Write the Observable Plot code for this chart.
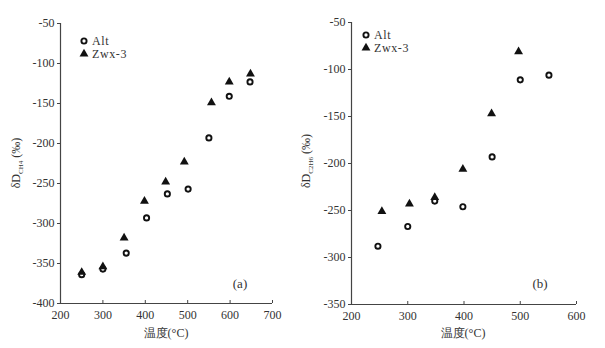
<!DOCTYPE html>
<html><head><meta charset="utf-8">
<script src="https://cdn.jsdelivr.net/npm/d3@7"></script>
<script src="https://cdn.jsdelivr.net/npm/@observablehq/plot@0.6"></script>
<style>
body{margin:0;background:#fff}
#wrap{display:flex;width:605px;height:348px}
svg{font-family:"Liberation Serif","DejaVu Serif",serif}
</style>
</head><body><div id="wrap"></div>
<script>
// Panel (a): δD CH4
const tempA_alt = [250, 300, 355, 403, 452, 501, 550, 598, 647];
const dA_alt    = [-364, -357, -337, -293, -263, -257, -193, -141, -123];
const tempA_zwx = [250, 300, 350, 398, 448, 492, 556, 598, 648];
const dA_zwx    = [-361, -354, -318, -272, -248, -223, -149, -123, -113];
const xTicksA = [200, 300, 400, 500, 600, 700];
const yTicksA = [-400, -350, -300, -250, -200, -150, -100, -50];

// Panel (b): δD C2H6
const tempB_alt = [247, 300, 348, 398, 450, 500, 551];
const dB_alt    = [-288, -267, -240, -246, -193, -111, -106];
const tempB_zwx = [254, 303, 348, 398, 449, 497];
const dB_zwx    = [-251, -243, -236, -206, -147, -81];
const xTicksB = [200, 300, 400, 500, 600];
const yTicksB = [-350, -300, -250, -200, -150, -100, -50];

const seriesNames = ["Alt", "Zwx-3"];
const xLabel = "温度(°C)";

const ink = "#333";
const triR = 3.3;

function panel(o) {
  const alt = o.tx.map((t, i) => ({t, d: o.dy[i]}));
  const zwx = o.tz.map((t, i) => ({t, d: o.dz[i]}));
  const p = Plot.plot({
    width: o.width, height: 348,
    marginLeft: o.ml, marginRight: o.mr, marginTop: o.mt, marginBottom: o.mb,
    style: {fontFamily: '"Liberation Serif", serif', fontSize: "12px", color: ink, background: "#fff"},
    x: {domain: [o.xTicks[0], o.xTicks[o.xTicks.length - 1]]},
    y: {domain: [o.yTicks[0], o.yTicks[o.yTicks.length - 1]]},
    marks: [
      Plot.axisY({ticks: o.yTicks, tickSize: 3, tickPadding: 3, tickFormat: d => String(d), label: null, stroke: "#444"}),
      Plot.axisX({ticks: o.xTicks, tickSize: 0, tickPadding: 7, tickFormat: d => String(d), label: null}),
      Plot.axisX({ticks: o.xTicks, tickSize: -3, text: null, label: null, stroke: "#444"}),
      Plot.ruleX([o.xTicks[0]], {stroke: "#444", strokeWidth: 1.2}),
      Plot.ruleY([o.yTicks[0]], {stroke: "#444", strokeWidth: 1.2}),
      Plot.dot(alt, {x: "t", y: "d", r: 2.6, stroke: "#111", strokeWidth: 1.9, fill: "white"}),
      Plot.dot(zwx, {x: "t", y: "d", symbol: "triangle", r: triR, fill: "#111", stroke: "none"})
    ]
  });
  const svg = d3.select(p);
  // y label with subscript
  const yl = svg.append("text")
    .attr("transform", `translate(${o.ylx},${o.yly}) rotate(-90)`)
    .attr("text-anchor", "middle").attr("fill", ink).attr("font-size", 12);
  yl.append("tspan").text("δD");
  yl.append("tspan").attr("font-size", 7).attr("dy", 3).text(o.sub);
  yl.append("tspan").attr("dy", -3).text(" (‰)");
  // x label
  svg.append("text").attr("x", o.xlx).attr("y", 337).attr("text-anchor", "middle")
    .attr("fill", ink).attr("font-size", 12).text(xLabel);
  // legend
  const lg = svg.append("g").attr("text-anchor", "start");
  lg.append("circle").attr("cx", o.lgx).attr("cy", o.lgy).attr("r", 2.6)
    .attr("fill", "white").attr("stroke", "#111").attr("stroke-width", 1.9);
  lg.append("path").attr("d", d3.symbol(d3.symbolTriangle, Math.PI * triR * triR)())
    .attr("transform", `translate(${o.lgx},${o.lgy + 13})`).attr("fill", "#111");
  lg.append("text").attr("x", o.lgx + 8).attr("y", o.lgy + 4).attr("text-anchor", "start").attr("fill", ink).attr("font-size", 12).attr("letter-spacing", 0.6).text(seriesNames[0]);
  lg.append("text").attr("x", o.lgx + 8).attr("y", o.lgy + 17).attr("text-anchor", "start").attr("fill", ink).attr("font-size", 12).attr("letter-spacing", 0.6).text(seriesNames[1]);
  // panel tag
  svg.append("text").attr("x", o.tagx).attr("y", 288).attr("text-anchor", "middle")
    .attr("fill", ink).attr("font-size", 13).text(o.tag);
  return p;
}

const wrap = document.getElementById("wrap");
wrap.appendChild(panel({
  tx: tempA_alt, dy: dA_alt, tz: tempA_zwx, dz: dA_zwx, xTicks: xTicksA, yTicks: yTicksA,
  width: 300, ml: 60, mr: 28, mt: 23, mb: 45,
  ylx: 20, yly: 163, sub: "CH4", xlx: 166, lgx: 84, lgy: 41, tagx: 240, tag: "(a)"
}));
wrap.appendChild(panel({
  tx: tempB_alt, dy: dB_alt, tz: tempB_zwx, dz: dB_zwx, xTicks: xTicksB, yTicks: yTicksB,
  width: 305, ml: 51, mr: 29, mt: 22, mb: 44,
  ylx: 10, yly: 161, sub: "C2H6", xlx: 163, lgx: 66, lgy: 35, tagx: 240, tag: "(b)"
}));
</script>
</body></html>
